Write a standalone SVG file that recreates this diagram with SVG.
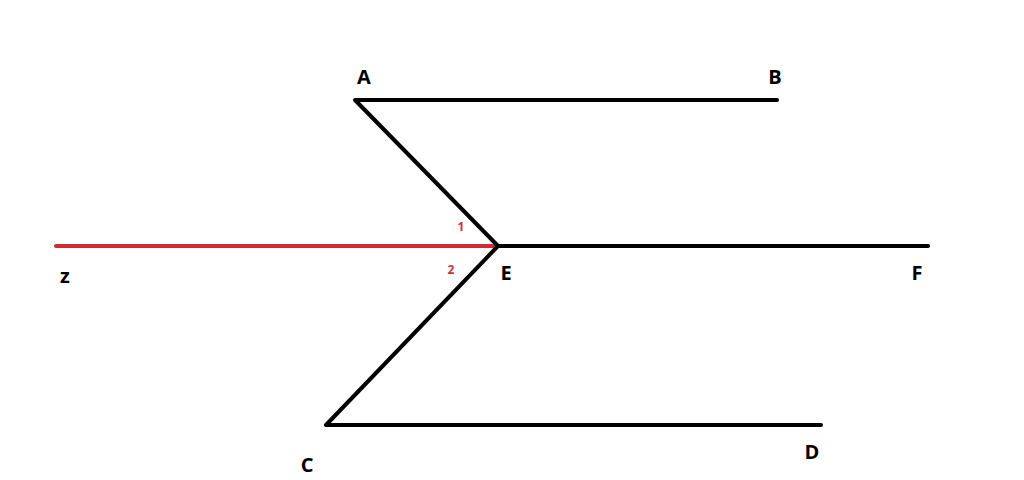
<svg xmlns="http://www.w3.org/2000/svg" width="1024" height="480" viewBox="0 0 1024 480">
<style>
.ln{stroke:#000;stroke-width:4;fill:none;stroke-linecap:round;stroke-linejoin:round}
.red{stroke:#d22a2f;stroke-width:4;fill:none;stroke-linecap:round}
.lb{font-family:"Open Sans","Liberation Sans",sans-serif;font-weight:bold;font-size:20px;fill:#000;text-anchor:middle}
.ang{font-family:"Open Sans","Liberation Sans",sans-serif;font-weight:bold;font-size:12px;fill:#c8323a;text-anchor:middle}
</style>
<rect width="1024" height="480" fill="#fff"/>
<g id="connectors">
<line class="red" x1="56" y1="246" x2="498" y2="246"/>
<polyline class="ln" points="777,100 355,100 498,246 326,425 821,425"/>
<line class="ln" x1="498" y1="246" x2="928" y2="246"/>
</g>
<g id="A"><text class="lb" x="364" y="84">A</text></g>
<g id="B"><text class="lb" x="775" y="84">B</text></g>
<g id="E"><text class="lb" x="506" y="280">E</text></g>
<g id="F"><text class="lb" x="917" y="280">F</text></g>
<g id="Z"><text class="lb" x="65" y="283">z</text></g>
<g id="C"><text class="lb" x="307" y="472">C</text></g>
<g id="D"><text class="lb" x="812" y="459">D</text></g>
<g id="angle1"><text class="ang" x="461" y="231">1</text></g>
<g id="angle2"><text class="ang" x="451" y="274">2</text></g>
</svg>
